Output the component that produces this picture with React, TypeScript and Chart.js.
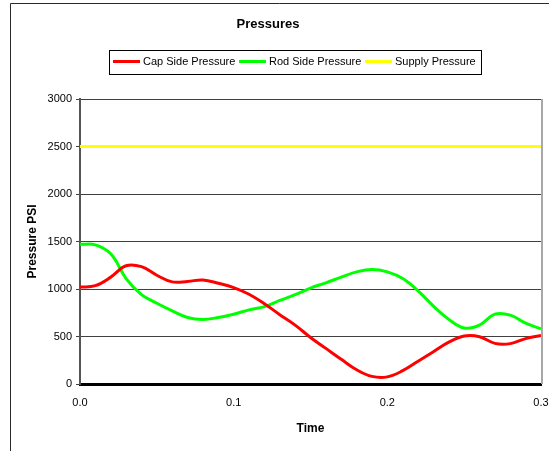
import React, { useEffect, useRef } from "react";
import { Chart, registerables } from "chart.js";

Chart.register(...registerables);

const times = [
  0, 0.01, 0.02, 0.03, 0.04, 0.05, 0.06, 0.07, 0.08, 0.09, 0.1, 0.11, 0.12, 0.13, 0.14, 0.15,
  0.16, 0.17, 0.18, 0.19, 0.2, 0.21, 0.22, 0.23, 0.24, 0.25, 0.26, 0.27, 0.28, 0.29, 0.3,
];
const capSide = [
  1020, 1035, 1125, 1245, 1235, 1145, 1075, 1080, 1095, 1060, 1015, 945, 845, 730, 620, 490,
  375, 260, 150, 80, 75, 140, 240, 340, 440, 505, 498, 428, 425, 478, 510,
];
const rodSide = [
  1470, 1465, 1370, 1110, 940, 850, 770, 700, 680, 700, 735, 780, 815, 880, 940, 1010, 1065,
  1125, 1180, 1205, 1180, 1110, 980, 820, 680, 590, 620, 735, 725, 640, 580,
];
const supply = [
  2500, 2500, 2500, 2500, 2500, 2500, 2500, 2500, 2500, 2500, 2500, 2500, 2500, 2500, 2500, 2500,
  2500, 2500, 2500, 2500, 2500, 2500, 2500, 2500, 2500, 2500, 2500, 2500, 2500, 2500, 2500,
];
const seriesNames = ["Cap Side Pressure", "Rod Side Pressure", "Supply Pressure"];
const seriesColors = ["#ff0000", "#00ff00", "#ffff00"];
const chartTitle = "Pressures";
const xTitle = "Time";
const yTitle = "Pressure PSI";

const FONT = "'Liberation Sans', Arial, sans-serif";

const decorPlugin = {
  id: "decor",
  afterDraw(chart: any) {
    const ctx = chart.ctx;
    const area = chart.chartArea;
    ctx.save();
    // outer frame
    ctx.strokeStyle = "#2a2a2a";
    ctx.lineWidth = 1;
    ctx.beginPath();
    ctx.moveTo(10.5, 451);
    ctx.lineTo(10.5, 3.5);
    ctx.lineTo(549, 3.5);
    ctx.stroke();
    // right border of plot
    ctx.strokeStyle = "#a8a8a8";
    ctx.lineWidth = 2;
    ctx.beginPath();
    ctx.moveTo(area.right + 1, area.top);
    ctx.lineTo(area.right + 1, area.bottom);
    ctx.stroke();
    // title
    ctx.fillStyle = "#000";
    ctx.font = `bold 13px ${FONT}`;
    ctx.textAlign = "center";
    ctx.textBaseline = "middle";
    ctx.fillText(chartTitle, 268, 24);
    // legend box
    ctx.strokeStyle = "#000";
    ctx.lineWidth = 1;
    ctx.strokeRect(109.5, 50.5, 372, 24);
    const starts = [113, 239, 365];
    ctx.font = `11px ${FONT}`;
    ctx.textAlign = "left";
    seriesNames.forEach((name, i) => {
      ctx.strokeStyle = seriesColors[i];
      ctx.lineWidth = 3;
      ctx.beginPath();
      ctx.moveTo(starts[i], 61.5);
      ctx.lineTo(starts[i] + 27, 61.5);
      ctx.stroke();
      ctx.fillStyle = "#000";
      ctx.fillText(name, starts[i] + 30, 62);
    });
    ctx.restore();
  },
};

export default function App() {
  const ref = useRef<HTMLCanvasElement>(null);
  useEffect(() => {
    const mk = (vals: number[]) => times.map((t, i) => ({ x: t, y: vals[i] }));
    const chart = new Chart(ref.current as HTMLCanvasElement, {
      type: "line",
      data: {
        datasets: [capSide, rodSide, supply].map((vals, i) => ({
          label: seriesNames[i],
          data: mk(vals),
          borderColor: seriesColors[i],
          backgroundColor: seriesColors[i],
          borderWidth: 3,
          pointRadius: 0,
          tension: 0.4,
          fill: false,
        })),
      },
      options: {
        animation: false,
        responsive: false,
        events: [],
        layout: { padding: { left: 10, right: 8, top: 99, bottom: 0 } },
        plugins: {
          legend: { display: false },
          title: { display: false },
          tooltip: { enabled: false },
        },
        scales: {
          x: {
            type: "linear",
            min: 0,
            max: 0.3,
            afterFit: (s: any) => {
              s.height = 67;
              s.paddingLeft = 0;
              s.paddingRight = 0;
            },
            ticks: {
              stepSize: 0.1,
              padding: 12,
              color: "#000",
              font: { family: FONT, size: 11 },
              callback: (v: any) => Number(v).toFixed(1),
            },
            grid: { display: false, drawTicks: false },
            border: { display: true, color: "#000", width: 3 },
            title: {
              display: true,
              text: xTitle,
              color: "#000",
              font: { family: FONT, size: 12, weight: "bold" },
              padding: { top: 0, bottom: 15 },
            },
          },
          y: {
            min: 0,
            max: 3000,
            afterFit: (s: any) => {
              s.width = 70;
            },
            ticks: {
              stepSize: 500,
              padding: 4,
              color: "#000",
              font: { family: FONT, size: 11 },
              callback: (v: any) => String(v),
            },
            grid: { color: "#404040", lineWidth: 1, tickLength: 4, drawTicks: true },
            border: { display: true, color: "#555", width: 2 },
            title: {
              display: true,
              text: yTitle,
              color: "#000",
              font: { family: FONT, size: 12, weight: "bold" },
              padding: { top: 15, bottom: 0 },
            },
          },
        },
      },
      plugins: [decorPlugin],
    } as any);
    return () => chart.destroy();
  }, []);
  return (
    <div style={{ position: "fixed", left: 0, top: 0, width: 549, height: 451, background: "#fff" }}>
      <canvas ref={ref} width={549} height={451} />
    </div>
  );
}
